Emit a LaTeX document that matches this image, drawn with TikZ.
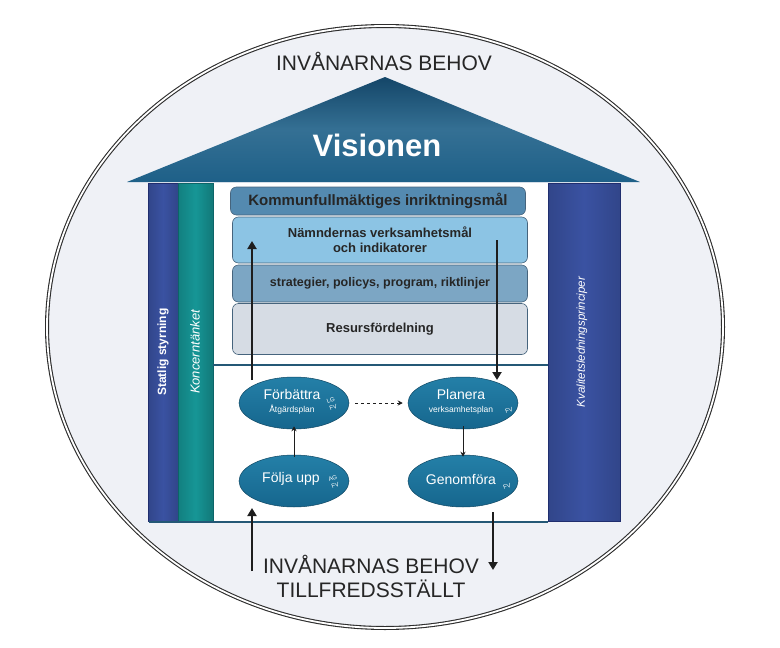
\documentclass[tikz,border=0pt]{standalone}
\usepackage{fontspec}
\setmainfont{Liberation Sans}
\usetikzlibrary{arrows.meta,shapes.geometric}
\definecolor{bgc}{RGB}{239,241,246}
\definecolor{ringc}{RGB}{45,45,45}
\definecolor{roofc}{RGB}{30,96,136}
\definecolor{roofd}{RGB}{20,70,104}
\definecolor{bluecol}{RGB}{58,82,162}
\definecolor{bluecold}{RGB}{32,46,110}
\definecolor{tealcol}{RGB}{22,150,150}
\definecolor{tealcold}{RGB}{12,100,104}
\definecolor{lvlA}{RGB}{84,138,176}
\definecolor{lvlB}{RGB}{140,196,228}
\definecolor{lvlC}{RGB}{124,166,196}
\definecolor{lvlD}{RGB}{214,220,228}
\definecolor{lvledge}{RGB}{70,100,125}
\definecolor{ellc}{RGB}{22,102,142}
\definecolor{ellt}{RGB}{36,128,168}
\definecolor{linec}{RGB}{36,88,118}
\definecolor{arrc}{RGB}{30,30,30}
\tikzset{
  level/.style={draw=lvledge, line width=0.6pt, rounded corners=6pt, minimum width=295pt, font=\bfseries\fontsize{13}{15}\selectfont, text=black!85, align=center, inner sep=0pt},
  cyc/.style={ellipse, draw=ellc!70!black, line width=0.5pt, top color=ellt, bottom color=ellc, minimum width=110pt, minimum height=52pt, inner sep=0pt},
  cyctext/.style={text=white, align=center, inner sep=0pt, font=\fontsize{14}{14}\selectfont},
  tiny/.style={text=white, font=\fontsize{6}{7.5}\selectfont, align=center, rotate=20, inner sep=0pt},
  bigarrow/.style={draw=arrc, line width=2.2pt, -{Triangle[width=9pt,length=8pt]}},
  smallarrow/.style={draw=arrc, line width=0.9pt, -{Stealth[length=5pt,width=5pt]}},
  coltext/.style={rotate=90, text=white},
  bigtext/.style={text=black!85, font=\fontsize{21}{24}\selectfont, align=center}
}
\begin{document}
\begin{tikzpicture}[x=1pt,y=-1pt]
\useasboundingbox (0,0) rectangle (780,648);
% circle
\fill[bgc] (385,327) ellipse [x radius=338, y radius=301];
\draw[ringc, line width=1.1pt, double=white, double distance=1.8pt] (385,327) ellipse [x radius=338, y radius=301];
\node[bigtext] (top) at (384,61) {INVÅNARNAS BEHOV};
% roof
\path[top color=roofd, bottom color=roofc, middle color=roofc!90!white] (127,182) -- (385,77) -- (640,182) -- cycle;
\node[text=white, font=\bfseries\fontsize{31}{31}\selectfont] (vision) at (377,145) {Visionen};
% inner panel
\fill[white] (213,183) rectangle (548,521);
% columns
\node[draw=bluecold, line width=0.8pt, left color=bluecol!85!black, right color=bluecol!85!black, middle color=bluecol, minimum width=30pt, minimum height=338pt, inner sep=0pt] (col1) at (163,352) {};
\node[draw=tealcold, line width=0.8pt, left color=tealcol!85!black, right color=tealcol!80!black, middle color=tealcol, minimum width=35pt, minimum height=338pt, inner sep=0pt] (col2) at (195.5,352) {};
\node[draw=bluecold, line width=0.8pt, left color=bluecol!85!black, right color=bluecol!85!black, middle color=bluecol, minimum width=72pt, minimum height=338pt, inner sep=0pt] (col3) at (584,352) {};
\node[coltext, font=\bfseries\fontsize{12}{12}\selectfont] (t1) at (163,352) {Statlig styrning};
\node[coltext, font=\itshape\fontsize{13}{13}\selectfont] (t2) at (195,352) {Koncerntänket};
\node[coltext, font=\itshape\fontsize{11.5}{11.5}\selectfont] (t3) at (582,342) {Kvalitetsledningsprinciper};
% panel lines
\draw[linec, line width=2.5pt] (213,365) -- (548,365);
\draw[linec, line width=2pt] (149,522) -- (548,522);
% levels
\node[level, fill=lvlD, minimum height=51pt] (l4) at (380,329) {Resursfördelning};
\node[level, fill=lvlC, minimum height=37pt, font=\bfseries\fontsize{12.5}{14}\selectfont] (l3) at (380,283.5) {strategier, policys, program, riktlinjer};
\node[level, fill=lvlB, minimum height=46pt] (l2) at (380,240) {Nämndernas verksamhetsmål\\och indikatorer};
\node[level, fill=lvlA, minimum height=28pt, font=\bfseries\fontsize{15}{16}\selectfont] (l1) at (378,201) {Kommunfullmäktiges inriktningsmål};
% cycle
\node[cyc] (forb) at (294,403) {};
\node[cyc] (plan) at (463,403) {};
\node[cyc] (folj) at (294,481) {};
\node[cyc] (genf) at (463,481) {};
\node[cyctext] (forbT) at (292,402) {Förbättra\\[-1pt]{\fontsize{8.5}{9}\selectfont Åtgärdsplan}};
\node[cyctext] (planT) at (461,402) {Planera\\[-1pt]{\fontsize{8.5}{9}\selectfont verksamhetsplan}};
\node[cyctext] (foljT) at (291,479) {Följa upp};
\node[cyctext] (genfT) at (461,479) {Genomföra};
\node[tiny] (sA) at (332,404) {LG\\FV};
\node[tiny] (sB) at (509,410) {FV};
\node[tiny] (sC) at (334,482) {AG\\FV};
\node[tiny] (sD) at (507,486) {FV};
\draw[smallarrow, dashed, line width=0.8pt] ([xshift=6pt]forb.east) -- ([xshift=-5pt]plan.west);
\draw[smallarrow] ([yshift=-2pt]folj.north) -- ([yshift=3pt]forb.south);
\draw[smallarrow] ([yshift=3pt]plan.south) -- ([yshift=-2pt]genf.north);
% big arrows
\coordinate (a1s) at (252,380);
\coordinate (a1e) at (252,241);
\coordinate (a2s) at (497,240);
\coordinate (a2e) at (497,380);
\draw[bigarrow] (a1s) -- (a1e);
\draw[bigarrow] (a2s) -- (a2e);
\coordinate (b1s) at (252,571);
\coordinate (b1e) at (252,508);
\coordinate (b2s) at (493,512);
\coordinate (b2e) at (493,570);
\draw[bigarrow] (b1s) -- (b1e);
\draw[bigarrow] (b2s) -- (b2e);
\node[bigtext] (bottom) at (371,576) {INVÅNARNAS BEHOV\\TILLFREDSSTÄLLT};
\end{tikzpicture}
\end{document}
